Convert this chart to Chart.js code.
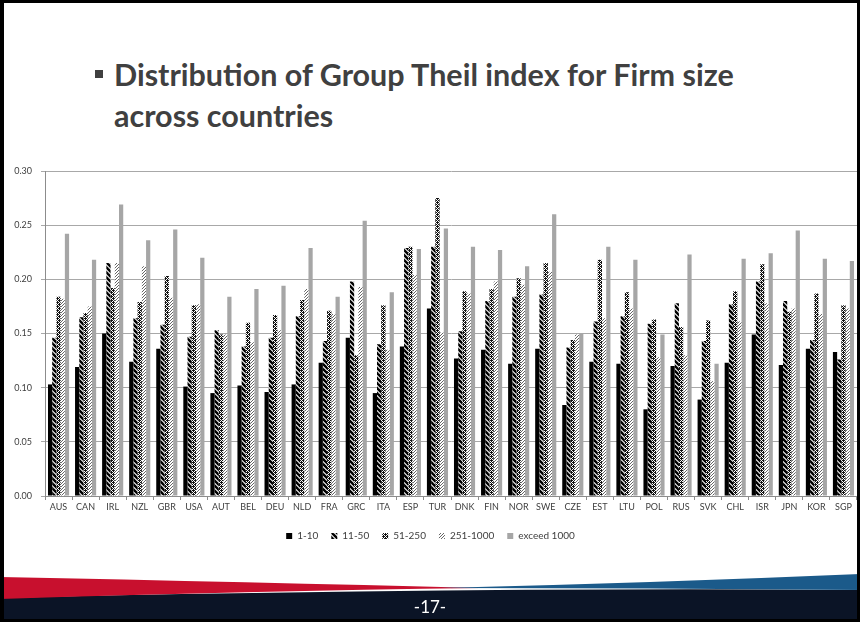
<!DOCTYPE html>
<html>
<head>
<meta charset="utf-8">
<script src="https://cdn.jsdelivr.net/npm/chart.js@4.4.0/dist/chart.umd.min.js"></script>
<style>
  html, body { margin: 0; padding: 0; background: #fff; }
  #slide { position: relative; width: 860px; height: 622px; overflow: hidden; background: #fff; }
  #frame { position: absolute; left: 0; top: 0; width: 860px; height: 622px; box-sizing: border-box;
           border-left: 4px solid #000; border-top: 3px solid #000; border-right: 3px solid #000; border-bottom: 3px solid #000; pointer-events: none; z-index: 5; }
  #title { position: absolute; left: 114px; top: 54px; font-family: Lato, "Open Sans", sans-serif; font-weight: bold;
           font-size: 30.5px; line-height: 41px; color: #404040; }
  #bullet { position: absolute; left: 95px; top: 70px; width: 8px; height: 8px; background: #404040; }
  #chartBox { position: absolute; left: 4px; top: 160px; width: 856px; height: 395px; }
  #footer { position: absolute; left: 0; top: 560px; width: 860px; height: 62px; }
  #pageNo { position: absolute; left: 0; width: 860px; top: 596px; text-align: center; color: #fff;
            font-family: Lato, "Open Sans", sans-serif; font-size: 17px; z-index: 4; }
</style>
</head>
<body>
<div id="slide">
  <div id="bullet"></div>
  <div id="title">Distribution of Group Theil index for Firm size<br>across countries</div>
  <div id="chartBox"><canvas id="chart"></canvas></div>
  <canvas id="footer" width="860" height="62"></canvas>
  <div id="pageNo">-17-</div>
  <div id="frame"></div>
</div>
<script>
// Countries and Theil index by firm-size group
const countries = ['AUS','CAN','IRL','NZL','GBR','USA','AUT','BEL','DEU','NLD','FRA','GRC','ITA','ESP','TUR',
                   'DNK','FIN','NOR','SWE','CZE','EST','LTU','POL','RUS','SVK','CHL','ISR','JPN','KOR','SGP'];
const seriesNames = ['1-10', '11-50', '51-250', '251-1000', 'exceed 1000'];
const size1to10 = [0.103,0.119,0.150,0.124,0.136,0.101,0.095,0.102,0.096,0.103,0.123,0.146,0.095,0.138,0.173,
                   0.127,0.135,0.122,0.136,0.084,0.124,0.122,0.080,0.120,0.089,0.123,0.149,0.121,0.136,0.133];
const size11to50 = [0.146,0.165,0.215,0.164,0.158,0.147,0.153,0.138,0.146,0.166,0.143,0.198,0.140,0.229,0.230,
                    0.152,0.180,0.184,0.186,0.137,0.161,0.166,0.159,0.178,0.143,0.177,0.198,0.180,0.144,0.126];
const size51to250 = [0.184,0.169,0.192,0.179,0.203,0.176,0.149,0.160,0.167,0.181,0.171,0.130,0.176,0.230,0.275,
                     0.189,0.191,0.201,0.215,0.144,0.218,0.188,0.163,0.156,0.162,0.189,0.214,0.170,0.187,0.176];
const size251to1000 = [0.182,0.175,0.215,0.212,0.183,0.177,0.149,0.142,0.153,0.191,0.168,0.193,0.135,0.204,0.151,
                       0.187,0.198,0.195,0.207,0.149,0.164,0.173,0.128,0.130,0.106,0.161,0.178,0.173,0.168,0.173];
const sizeOver1000 = [0.242,0.218,0.269,0.236,0.246,0.220,0.184,0.191,0.194,0.229,0.184,0.254,0.188,0.228,0.247,
                      0.230,0.227,0.212,0.260,0.150,0.230,0.218,0.149,0.223,0.122,0.219,0.224,0.245,0.219,0.217];
const yTicks = [0, 0.05, 0.10, 0.15, 0.20, 0.25, 0.30];

// Fill patterns for the hatched series
function tile(size, paint) {
  const c = document.createElement('canvas');
  c.width = size; c.height = size;
  const g = c.getContext('2d');
  g.fillStyle = '#fff';
  g.fillRect(0, 0, size, size);
  paint(g, size);
  return g.createPattern(c, 'repeat');
}
const wideBackslash = tile(5, (g, s) => {
  g.strokeStyle = '#000'; g.lineWidth = 2.5;
  for (const k of [-s, 0, s]) { g.beginPath(); g.moveTo(k - 1, -1); g.lineTo(k + s + 1, s + 1); g.stroke(); }
});
const weave = tile(4, (g) => {
  const m = ['1011', '0101', '1110', '0101'];
  g.fillStyle = '#111';
  m.forEach((row, y) => [...row].forEach((v, x) => { if (v === '1') g.fillRect(x, y, 1, 1); }));
});
const fineSlash = tile(3, (g, s) => {
  g.strokeStyle = '#555'; g.lineWidth = 0.9;
  for (const k of [-s, 0, s]) { g.beginPath(); g.moveTo(k - 1, s + 1); g.lineTo(k + s + 1, -1); g.stroke(); }
});

const fills = ['#000000', wideBackslash, weave, fineSlash, '#a6a6a6'];
const values = [size1to10, size11to50, size51to250, size251to1000, sizeOver1000];

const tickFont = { family: 'Lato, "Open Sans", sans-serif', size: 9 };

new Chart(document.getElementById('chart'), {
  type: 'bar',
  data: {
    labels: countries,
    datasets: seriesNames.map((name, i) => ({
      label: name,
      data: values[i],
      backgroundColor: fills[i],
      borderWidth: 0,
      categoryPercentage: 0.78,
      barPercentage: 1.0
    }))
  },
  options: {
    responsive: true,
    maintainAspectRatio: false,
    animation: false,
    layout: { padding: { top: 11, right: 3, bottom: 4, left: 0 } },
    plugins: {
      tooltip: { enabled: false },
      legend: {
        position: 'bottom',
        labels: { boxWidth: 6, boxHeight: 6, padding: 13, color: '#404040',
                  font: { family: 'Lato, "Open Sans", sans-serif', size: 10 } }
      }
    },
    scales: {
      x: {
        grid: { display: true, drawOnChartArea: false, drawTicks: true, tickLength: 4, color: '#8c8c8c', offset: true },
        border: { color: '#8c8c8c' },
        ticks: { color: '#404040', font: tickFont, padding: 2, maxRotation: 0, autoSkip: false },
        afterFit: (s) => { s.height = 22; }
      },
      y: {
        min: 0, max: 0.30,
        afterBuildTicks: (s) => { s.ticks = yTicks.map(v => ({ value: v })); },
        grid: { color: '#a8a8a8', tickLength: 4 },
        border: { color: '#8c8c8c' },
        ticks: { color: '#404040', font: tickFont, padding: 9, callback: (v) => Number(v).toFixed(2) },
        afterFit: (s) => { s.width = 41; s.paddingTop = 0; s.paddingBottom = 0; }
      }
    }
  }
});

// Footer band: red and blue wedges over a navy base
(function drawFooter() {
  const g = document.getElementById('footer').getContext('2d');
  const oy = 560;
  g.fillStyle = '#0b1426';
  g.beginPath();
  g.moveTo(0, 598 - oy); g.quadraticCurveTo(470, 587 - oy, 860, 590 - oy);
  g.lineTo(860, 62); g.lineTo(0, 62); g.closePath(); g.fill();
  g.fillStyle = '#c8102e';
  g.beginPath();
  g.moveTo(0, 577 - oy); g.quadraticCurveTo(250, 582 - oy, 480, 588 - oy);
  g.quadraticCurveTo(250, 591 - oy, 0, 599 - oy); g.closePath(); g.fill();
  g.fillStyle = '#1b5a8a';
  g.beginPath();
  g.moveTo(440, 588 - oy); g.quadraticCurveTo(650, 583 - oy, 860, 574 - oy);
  g.lineTo(860, 590 - oy); g.quadraticCurveTo(650, 588 - oy, 440, 588 - oy); g.closePath(); g.fill();
})();
</script>
</body>
</html>
